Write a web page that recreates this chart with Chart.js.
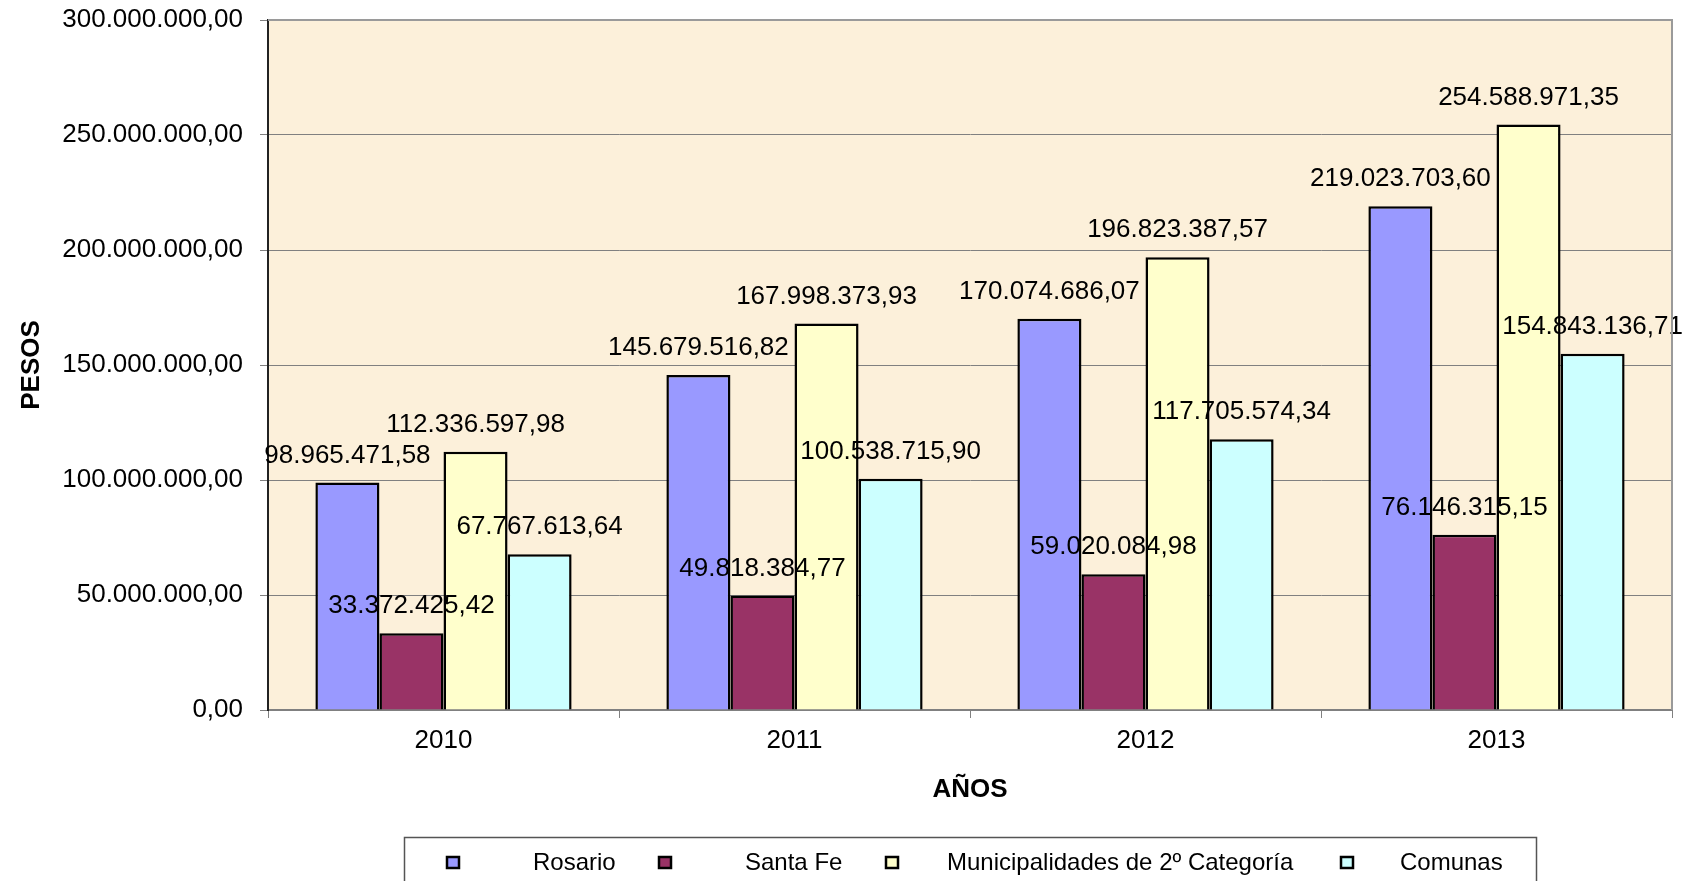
<!DOCTYPE html>
<html>
<head>
<meta charset="utf-8">
<script src="https://cdn.jsdelivr.net/npm/chart.js@4.4.1/dist/chart.umd.min.js"></script>
<style>
html,body{margin:0;padding:0;background:#fff;}
canvas{display:block;}
</style>
</head>
<body>
<canvas id="c" width="1693" height="881"></canvas>
<script>
const categories = ['2010', '2011', '2012', '2013'];
const seriesNames = ['Rosario', 'Santa Fe', 'Municipalidades de 2º Categoría', 'Comunas'];
const rosario = [98965471.58, 145679516.82, 170074686.07, 219023703.60];
const santaFe = [33372425.42, 49818384.77, 59020084.98, 76146315.15];
const municipalidades = [112336597.98, 167998373.93, 196823387.57, 254588971.35];
const comunas = [67767613.64, 100538715.90, 117705574.34, 154843136.71];
const yTickMin = 0, yTickMax = 300000000, yTickStep = 50000000;

const colors = ['#9999FF', '#993366', '#FFFFCC', '#CCFFFF'];
const FONT = '"Liberation Sans", Arial, sans-serif';

function fmt(v) {
  const parts = v.toFixed(2).split('.');
  return parts[0].replace(/\B(?=(\d{3})+(?!\d))/g, '.') + ',' + parts[1];
}

const allSeries = [rosario, santaFe, municipalidades, comunas];
const datasets = allSeries.map((d, i) => ({
  label: seriesNames[i],
  data: d,
  backgroundColor: colors[i],
  borderColor: '#000',
  borderWidth: 2.5,
  barPercentage: 1.0,
  categoryPercentage: 0.73
}));

const bgPlugin = {
  id: 'bg',
  beforeDraw(chart) {
    const {ctx, chartArea: a} = chart;
    ctx.save();
    ctx.fillStyle = '#FCF0DA';
    ctx.fillRect(a.left, a.top, a.right - a.left, a.bottom - a.top);
    ctx.restore();
  },
  afterDraw(chart) {
    const {ctx, chartArea: a} = chart;
    ctx.save();
    ctx.strokeStyle = '#9a9a9a';
    ctx.lineWidth = 2;
    ctx.beginPath();
    ctx.moveTo(a.left, a.top);
    ctx.lineTo(a.right, a.top);
    ctx.lineTo(a.right, a.bottom);
    ctx.stroke();
    ctx.restore();
  }
};

const labelPlugin = {
  id: 'vals',
  afterDatasetsDraw(chart) {
    const {ctx} = chart;
    ctx.save();
    ctx.font = '26px ' + FONT;
    ctx.fillStyle = '#000';
    ctx.textAlign = 'center';
    ctx.textBaseline = 'middle';
    chart.data.datasets.forEach((ds, i) => {
      const meta = chart.getDatasetMeta(i);
      meta.data.forEach((el, j) => {
        ctx.fillText(fmt(ds.data[j]), el.x, el.y - 27);
      });
    });
    ctx.restore();
  }
};

const legendPlugin = {
  id: 'customLegend',
  afterDraw(chart) {
    const {ctx} = chart;
    ctx.save();
    ctx.fillStyle = '#fff';
    ctx.strokeStyle = '#555';
    ctx.lineWidth = 1.5;
    ctx.fillRect(404, 837, 1133, 60);
    ctx.strokeRect(404.5, 837.5, 1132, 60);
    const markerX = [446, 658, 885, 1340];
    const textX = [533, 745, 947, 1400];
    ctx.font = '24px ' + FONT;
    ctx.textBaseline = 'middle';
    ctx.textAlign = 'left';
    chart.data.datasets.forEach((ds, i) => {
      ctx.fillStyle = ds.backgroundColor;
      ctx.fillRect(markerX[i], 856, 14, 13);
      ctx.strokeStyle = '#000';
      ctx.lineWidth = 2.5;
      ctx.strokeRect(markerX[i] + 1, 857, 12, 11);
      ctx.fillStyle = '#000';
      ctx.fillText(ds.label, textX[i], 863);
    });
    ctx.restore();
  }
};

new Chart(document.getElementById('c'), {
  type: 'bar',
  data: { labels: categories, datasets },
  plugins: [bgPlugin, labelPlugin, legendPlugin],
  options: {
    responsive: false,
    animation: false,
    devicePixelRatio: 1,
    layout: { padding: { left: 0, top: 20, right: 21, bottom: 60 } },
    plugins: { legend: { display: false }, tooltip: { enabled: false } },
    scales: {
      x: {
        offset: true,
        grid: { offset: true, drawOnChartArea: false, drawTicks: true, tickLength: 8, color: '#808080', lineWidth: 1 },
        border: { color: '#808080', width: 2 },
        ticks: { color: '#000', font: { family: FONT, size: 26 }, padding: 7, maxRotation: 0 },
        title: { display: true, text: 'AÑOS', color: '#000', font: { family: FONT, size: 26, weight: 'bold' }, padding: { top: 0, bottom: 16 } },
        afterFit(s) { s.height = 111; s.paddingLeft = 0; s.paddingRight = 0; }
      },
      y: {
        min: yTickMin,
        max: yTickMax,
        grid: { color: '#808080', lineWidth: 1, tickLength: 8, drawTicks: true },
        border: { color: '#222', width: 2 },
        ticks: { stepSize: yTickStep, color: '#000', font: { family: FONT, size: 26 }, padding: 17, callback: v => fmt(v) },
        title: { display: true, text: 'PESOS', color: '#000', font: { family: FONT, size: 26, weight: 'bold' }, padding: { top: 16, bottom: 0 } },
        afterFit(s) { s.width = 268; s.paddingTop = 0; s.paddingBottom = 0; }
      }
    }
  }
});
</script>
</body>
</html>
